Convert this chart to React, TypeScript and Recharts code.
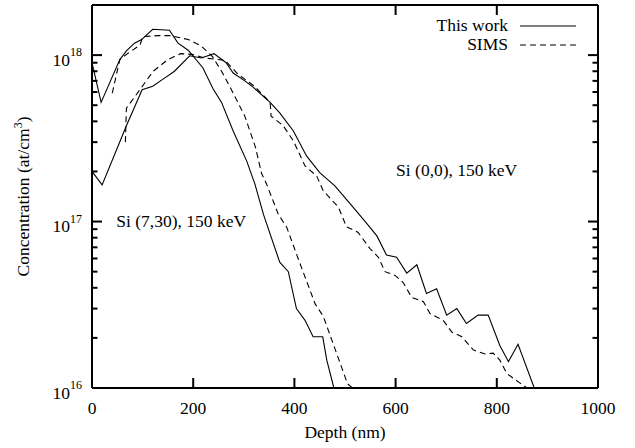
import {
  Legend,
  Line,
  LineChart,
  ReferenceDot,
  ReferenceLine,
  XAxis,
  YAxis,
} from "recharts";

// Si implant profiles, 150 keV — depth (nm) vs concentration (at/cm^3)
const tiltWorkDepth = [0, 18, 55, 68, 84, 98, 120, 153, 170, 190, 219, 239, 256, 279, 306, 322, 339, 371, 388, 404, 421, 437, 456, 464, 478];
const tiltWorkConc = [9.0e17, 5.2e17, 9.4e17, 1.06e18, 1.18e18, 1.24e18, 1.43e18, 1.41e18, 1.18e18, 1.07e18, 8.4e17, 6.3e17, 5.2e17, 3.5e17, 2.3e17, 1.68e17, 1.1e17, 5.7e16, 5.0e16, 3.0e16, 2.55e16, 2.03e16, 2.03e16, 1.47e16, 1.0e16];

const tiltSimsDepth = [40, 55, 70, 95, 100, 130, 155, 190, 215, 238, 256, 272, 302, 323, 335, 345, 368, 385, 411, 424, 441, 457, 474, 493, 505, 515];
const tiltSimsConc = [5.9e17, 9.4e17, 1.02e18, 1.15e18, 1.29e18, 1.31e18, 1.31e18, 1.24e18, 1.14e18, 9.8e17, 8.0e17, 6.5e17, 4.3e17, 2.8e17, 1.95e17, 1.68e17, 1.11e17, 9.2e16, 5.6e16, 4.4e16, 3.2e16, 2.7e16, 1.94e16, 1.34e16, 1.06e16, 1.0e16];

const normWorkDepth = [0, 20, 68, 99, 120, 144, 163, 193, 216, 241, 265, 279, 302, 319, 352, 371, 398, 424, 450, 480, 510, 540, 563, 582, 602, 622, 642, 661, 681, 701, 721, 740, 763, 783, 806, 823, 842, 874];
const normWorkConc = [2.0e17, 1.66e17, 3.76e17, 6.2e17, 6.5e17, 7.3e17, 8.0e17, 9.9e17, 9.6e17, 1.02e18, 9.0e17, 7.8e17, 7.0e17, 6.4e17, 5.2e17, 4.5e17, 3.5e17, 2.48e17, 1.97e17, 1.64e17, 1.28e17, 1.0e17, 8.2e16, 6.3e16, 6.1e16, 4.9e16, 5.5e16, 3.7e16, 3.95e16, 2.74e16, 3.0e16, 2.44e16, 2.74e16, 2.74e16, 1.8e16, 1.44e16, 1.83e16, 1.0e16];

const normSimsDepth = [66, 68, 98, 121, 150, 175, 198, 223, 263, 288, 321, 352, 354, 378, 398, 421, 444, 457, 487, 503, 526, 549, 566, 579, 599, 615, 632, 655, 668, 694, 711, 731, 754, 777, 793, 806, 820, 846, 860];
const normSimsConc = [3.0e17, 4.8e17, 6.4e17, 8.0e17, 9.4e17, 1.02e18, 1.01e18, 9.6e17, 9.3e17, 7.7e17, 6.5e17, 5.2e17, 4.3e17, 3.76e17, 3.05e17, 2.16e17, 1.88e17, 1.53e17, 1.22e17, 9.3e16, 8.6e16, 6.9e16, 6.1e16, 5.0e16, 4.75e16, 4.3e16, 3.5e16, 3.3e16, 2.8e16, 2.55e16, 2.17e16, 2.03e16, 1.69e16, 1.6e16, 1.62e16, 1.47e16, 1.22e16, 1.07e16, 1.0e16];

const depthTicks = [0, 200, 400, 600, 800, 1000];
const decadeTicks = [1e16, 1e17, 1e18];
const minorTicks = [2, 3, 4, 5, 6, 7, 8, 9].flatMap((m) => [m * 1e16, m * 1e17]).sort((a, b) => a - b);

const NOTES = [
  { text: "Si (7,30), 150 keV", depth: 50, conc: 1e17 },
  { text: "Si (0,0), 150 keV", depth: 603, conc: 2e17 },
];

const LEGEND = [
  { label: "This work", dash: undefined as string | undefined },
  { label: "SIMS", dash: "6 4" },
];

const FONT = "'Liberation Serif', 'Times New Roman', serif";
const FS = 17.5;
const DASH = "6 4";
const FRAME_W = 2;
const FRAME_C = "#000";
const DEPTH_DOMAIN: [number, number] = [0, 1000];
const CONC_DOMAIN: [number, number] = [1e16, 2e18];

const toPoints = (d: number[], c: number[]) => d.map((x, i) => ({ d: x, c: c[i] }));

function DepthLabel({ x, y, payload }: any) {
  return (
    <text x={x} y={y + 25.5} textAnchor="middle" fontFamily={FONT} fontSize={FS} fill="#000">
      {payload.value}
    </text>
  );
}

function DecadeLabel({ x, y, payload }: any) {
  const exp = Math.round(Math.log10(payload.value as number));
  return (
    <text x={x - 10} y={y + 10.5} textAnchor="end" fontFamily={FONT} fontSize={FS} fill="#000">
      10
      <tspan dy={-9.5} fontSize={12}>{exp}</tspan>
    </text>
  );
}

// gnuplot-style inward ticks on both sides of the frame, drawn from a reference line's end points
function depthTickShape(p: any) {
  const top = Math.min(p.y1, p.y2);
  const bot = Math.max(p.y1, p.y2);
  return (
    <g stroke={FRAME_C} strokeWidth={FRAME_W}>
      <line x1={p.x1} x2={p.x1} y1={bot} y2={bot - 10} />
      <line x1={p.x1} x2={p.x1} y1={top} y2={top + 10} />
    </g>
  );
}

const concTickShape = (len: number) => (p: any) => {
  const l = Math.min(p.x1, p.x2);
  const r = Math.max(p.x1, p.x2);
  return (
    <g stroke={FRAME_C} strokeWidth={FRAME_W}>
      <line x1={l} x2={l + len} y1={p.y1} y2={p.y1} />
      <line x1={r} x2={r - len} y1={p.y1} y2={p.y1} />
    </g>
  );
};

function LegendBox() {
  return (
    <div style={{ fontFamily: FONT, fontSize: FS, color: "#000", lineHeight: "19px" }}>
      {LEGEND.map((row) => (
        <div key={row.label} style={{ display: "flex", alignItems: "center", height: 19 }}>
          <span style={{ width: 90, textAlign: "right" }}>{row.label}</span>
          <svg width={70} height={19} style={{ marginLeft: 12 }}>
            <line x1={0} x2={56} y1={10} y2={10} stroke="#000" strokeWidth={1.1} strokeDasharray={row.dash} />
          </svg>
        </div>
      ))}
    </div>
  );
}

export default function App() {
  const axisLine = { stroke: FRAME_C, strokeWidth: FRAME_W };
  return (
    <div style={{ position: "absolute", left: 0, top: 0, width: 635, height: 448, background: "#fff" }}>
      <LineChart width={635} height={448} margin={{ top: 5, right: 37, bottom: 10, left: 12 }}>
        <XAxis
          xAxisId="b" dataKey="d" type="number" domain={DEPTH_DOMAIN} ticks={depthTicks} interval={0}
          height={50} tickSize={0} tickMargin={0} tickLine={false} axisLine={axisLine}
          tick={<DepthLabel />}
          label={{
            content: ({ viewBox }: any) => (
              <text x={viewBox.x + viewBox.width / 2} y={viewBox.y + 50} textAnchor="middle" fontFamily={FONT} fontSize={FS} fill="#000">
                Depth (nm)
              </text>
            ),
          }}
        />
        <YAxis
          yAxisId="l" dataKey="c" type="number" scale="log" domain={CONC_DOMAIN} allowDataOverflow
          ticks={decadeTicks} interval={0} width={80} tickSize={0} tickMargin={0} tickLine={false} axisLine={axisLine}
          tick={<DecadeLabel />}
          label={{
            content: ({ viewBox }: any) => {
              const cx = viewBox.x + 17;
              const cy = viewBox.y + viewBox.height / 2;
              return (
                <text x={cx} y={cy} transform={`rotate(-90 ${cx} ${cy})`} textAnchor="middle" fontFamily={FONT} fontSize={FS} fill="#000">
                  Concentration (at/cm
                  <tspan dy={-7} fontSize={12}>3</tspan>
                  <tspan dy={7}>)</tspan>
                </text>
              );
            },
          }}
        />

        {/* frame: top and right edges */}
        <ReferenceLine xAxisId="b" yAxisId="l" y={CONC_DOMAIN[1]} stroke={FRAME_C} strokeWidth={FRAME_W} />
        <ReferenceLine xAxisId="b" yAxisId="l" x={DEPTH_DOMAIN[1]} stroke={FRAME_C} strokeWidth={FRAME_W} />

        {depthTicks.map((d) => (
          <ReferenceLine key={`x${d}`} xAxisId="b" yAxisId="l" x={d} shape={depthTickShape} />
        ))}
        {decadeTicks.map((v) => (
          <ReferenceLine key={`M${v}`} xAxisId="b" yAxisId="l" y={v} shape={concTickShape(10)} />
        ))}
        {minorTicks.map((v) => (
          <ReferenceLine key={`m${v}`} xAxisId="b" yAxisId="l" y={v} shape={concTickShape(5.5)} />
        ))}

        <Line xAxisId="b" yAxisId="l" data={toPoints(tiltWorkDepth, tiltWorkConc)} dataKey="c" name="This work"
          stroke="#000" strokeWidth={1.1} dot={false} activeDot={false} isAnimationActive={false} />
        <Line xAxisId="b" yAxisId="l" data={toPoints(normWorkDepth, normWorkConc)} dataKey="c" name="This work (0,0)"
          stroke="#000" strokeWidth={1.1} dot={false} activeDot={false} isAnimationActive={false} legendType="none" />
        <Line xAxisId="b" yAxisId="l" data={toPoints(tiltSimsDepth, tiltSimsConc)} dataKey="c" name="SIMS"
          stroke="#000" strokeWidth={1.1} strokeDasharray={DASH} dot={false} activeDot={false} isAnimationActive={false} />
        <Line xAxisId="b" yAxisId="l" data={toPoints(normSimsDepth, normSimsConc)} dataKey="c" name="SIMS (0,0)"
          stroke="#000" strokeWidth={1.1} strokeDasharray={DASH} dot={false} activeDot={false} isAnimationActive={false} legendType="none" />

        {NOTES.map((n) => (
          <ReferenceDot
            key={n.text} xAxisId="b" yAxisId="l" x={n.depth} y={n.conc} r={1} fill="none" stroke="none"
            label={{
              content: ({ viewBox }: any) => (
                <text x={viewBox.x} y={viewBox.y + 6} fontFamily={FONT} fontSize={FS} fill="#000">
                  {n.text}
                </text>
              ),
            }}
          />
        ))}

        <Legend
          layout="vertical" align="center" verticalAlign="middle"
          wrapperStyle={{ top: 16, left: 418, width: "auto" }}
          content={() => <LegendBox />}
        />
      </LineChart>
    </div>
  );
}
